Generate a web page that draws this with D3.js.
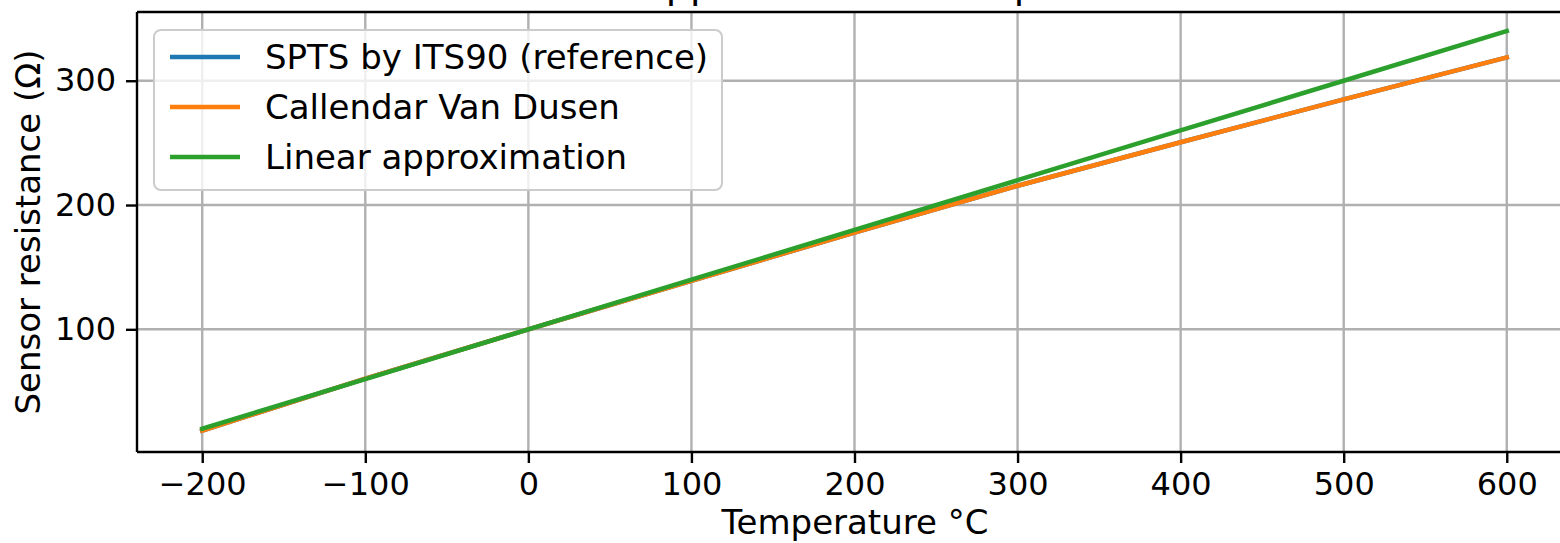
<!DOCTYPE html>
<html>
<head>
<meta charset="utf-8">
<script src="https://cdn.jsdelivr.net/npm/d3@7"></script>
<style>
  body { margin: 0; background: #fff; }
  svg { display: block; font-family: "DejaVu Sans", sans-serif; }
</style>
</head>
<body>
<svg id="chart" width="1560" height="543"></svg>
<script>
var temps = [-200, -100, 0, 100, 200, 300, 400, 500, 600];
var its90 = [18.5, 60.3, 100, 139.1, 177.8, 215.5, 250.5, 285, 318.8];
var cvd = [18.5, 60.3, 100, 139.1, 177.8, 215.5, 250.5, 285, 318.8];
var linear = [20, 60, 100, 140, 180, 220, 260, 300, 340];
var xTicks = [-200, -100, 0, 100, 200, 300, 400, 500, 600];
var yTicks = [100, 200, 300];
var seriesNames = ["SPTS by ITS90 (reference)", "Callendar Van Dusen", "Linear approximation"];
var colors = ["#1f77b4", "#ff7f0e", "#2ca02c"];

var pLeft = 137, pTop = 12, pRight = 1572, pBottom = 452;
var svg = d3.select("#chart");

var x = d3.scaleLinear().domain([-240, 640]).range([pLeft, pRight]);
var y = d3.scaleLinear().domain([1.3, 355.3]).range([pBottom, pTop]);

// grid
svg.append("g").selectAll("line").data(xTicks).enter().append("line")
  .attr("x1", d => x(d)).attr("x2", d => x(d))
  .attr("y1", pTop).attr("y2", pBottom)
  .style("stroke", "#b0b0b0").style("stroke-width", 2.4);
svg.append("g").selectAll("line").data(yTicks).enter().append("line")
  .attr("x1", pLeft).attr("x2", pRight)
  .attr("y1", d => y(d)).attr("y2", d => y(d))
  .style("stroke", "#b0b0b0").style("stroke-width", 2.4);

// lines
svg.append("clipPath").attr("id", "clip").append("rect")
  .attr("x", pLeft).attr("y", pTop).attr("width", pRight - pLeft).attr("height", pBottom - pTop);
var line = d3.line().x((d, i) => x(temps[i])).y(d => y(d));
var plot = svg.append("g").attr("clip-path", "url(#clip)");
[its90, cvd, linear].forEach(function(vals, i) {
  plot.append("path").datum(vals)
    .attr("d", line)
    .style("fill", "none")
    .style("stroke", colors[i])
    .style("stroke-width", 4.5)
    .style("stroke-linecap", "square");
});

// axes
var xAxis = d3.axisBottom(x).tickValues(xTicks).tickSize(11).tickPadding(9)
  .tickFormat(d => d < 0 ? "\u2212" + Math.abs(d) : d);
var gx = svg.append("g").attr("transform", "translate(0," + pBottom + ")").call(xAxis);
var yAxis = d3.axisLeft(y).tickValues(yTicks).tickSize(11).tickPadding(10);
var gy = svg.append("g").attr("transform", "translate(" + pLeft + ",0)").call(yAxis);
[gx, gy].forEach(function(g) {
  g.select(".domain").remove();
  g.selectAll(".tick line").style("stroke", "#000").style("stroke-width", 2.4);
  g.selectAll(".tick text").style("font-size", "32px").style("fill", "#000")
    .style("font-family", "'DejaVu Sans', sans-serif");
});

// spines
svg.append("line").attr("x1", pLeft).attr("x2", pLeft).attr("y1", pTop).attr("y2", pBottom)
  .style("stroke", "#000").style("stroke-width", 2.4);
svg.append("line").attr("x1", pLeft).attr("x2", pRight).attr("y1", pBottom).attr("y2", pBottom)
  .style("stroke", "#000").style("stroke-width", 2.4);
svg.append("line").attr("x1", pLeft).attr("x2", pRight).attr("y1", pTop).attr("y2", pTop)
  .style("stroke", "#000").style("stroke-width", 2.4);

// labels
svg.append("text").attr("x", (pLeft + pRight) / 2).attr("y", -2)
  .attr("text-anchor", "middle").style("font-size", "38.4px")
  .text("RTD approximation comparison");
svg.append("text").attr("x", 855).attr("y", 534)
  .attr("text-anchor", "middle").style("font-size", "34px")
  .text("Temperature \u00b0C");
svg.append("text").attr("transform", "translate(40," + ((pTop + pBottom) / 2) + ") rotate(-90)")
  .attr("text-anchor", "middle").style("font-size", "34px")
  .text("Sensor resistance (\u03a9)");

// legend
var leg = svg.append("g");
leg.append("rect").attr("x", 154).attr("y", 30).attr("width", 568).attr("height", 160)
  .attr("rx", 7).attr("ry", 7)
  .style("fill", "#fff").style("fill-opacity", 0.8)
  .style("stroke", "#cccccc").style("stroke-width", 2);
seriesNames.forEach(function(name, i) {
  var ly = 57 + i * 50;
  leg.append("line").attr("x1", 170).attr("x2", 240).attr("y1", ly).attr("y2", ly)
    .style("stroke", colors[i]).style("stroke-width", 4.5);
  leg.append("text").attr("x", 265).attr("y", ly + 12)
    .style("font-size", "34px").text(name);
});
</script>
</body>
</html>
